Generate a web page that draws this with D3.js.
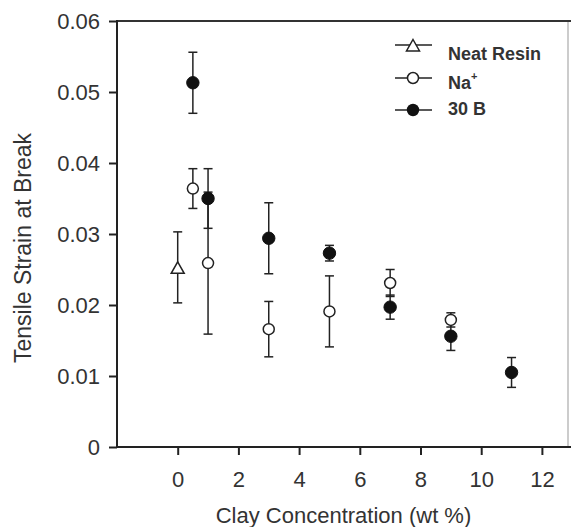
<!DOCTYPE html>
<html>
<head>
<meta charset="utf-8">
<script src="https://cdn.jsdelivr.net/npm/d3@7"></script>
<style>
  body { margin: 0; background: #fff; }
  text { font-family: "Liberation Sans", Arial, sans-serif; fill: #333; }
</style>
</head>
<body>
<svg id="chart" width="571" height="527"></svg>
<script>
// data
const neatX = [0]
const neatY = [0.0253]
const neatErr = [0.0050]

const naX = [0.5, 1, 3, 5, 7, 9]
const naY = [0.0364, 0.0259, 0.0166, 0.0191, 0.0231, 0.0179]
const naErr = [0.0028, 0.0100, 0.0039, 0.0050, 0.0019, 0.0010]

const b30X = [0.5, 1, 3, 5, 7, 9, 11]
const b30Y = [0.0513, 0.0350, 0.0294, 0.0273, 0.0197, 0.0156, 0.0105]
const b30Err = [0.0043, 0.0042, 0.0050, 0.0011, 0.0017, 0.0020, 0.0021]

const xTicks = [0, 2, 4, 6, 8, 10, 12]
const yTicks = [0, 0.01, 0.02, 0.03, 0.04, 0.05, 0.06]

const seriesNames = ['Neat Resin', 'Na', '30 B']

const svg = d3.select('#chart')
const pLeft = 117, pRight = 568, pTop = 21, pBottom = 447
const axisColor = '#222'

const x = d3.scaleLinear().domain([-2, 12.86]).range([pLeft, pRight])
const y = d3.scaleLinear().domain([0, 0.06]).range([pBottom, pTop])

// frame: thin grey right side, dark top
svg.append('line')
  .attr('x1', pRight).attr('x2', pRight).attr('y1', pTop).attr('y2', pBottom)
  .style('stroke', '#999').style('stroke-width', 1)
svg.append('line')
  .attr('x1', pLeft).attr('x2', pRight + 3).attr('y1', pTop).attr('y2', pTop)
  .style('stroke', '#333').style('stroke-width', 2)

// axes
const xAxis = d3.axisBottom(x).tickValues(xTicks).tickSize(8).tickPadding(16)
  .tickFormat(d3.format('d'))
const gx = svg.append('g').attr('transform', `translate(0, ${pBottom})`).call(xAxis)
gx.select('path.domain').attr('d', `M${pLeft},0H${pRight + 3}`)

const yAxis = d3.axisLeft(y).tickValues(yTicks).tickSize(8).tickPadding(9)
  .tickFormat(d => d === 0 ? '0' : d3.format('.2f')(d))
const gy = svg.append('g').attr('transform', `translate(${pLeft}, 0)`).call(yAxis)
gy.select('path.domain').attr('d', `M0,${pBottom + 1}V${pTop - 1}`)

svg.selectAll('.domain, .tick line')
  .style('stroke', axisColor).style('stroke-width', 2)
svg.selectAll('.tick text')
  .style('font-family', '"Liberation Sans", Arial, sans-serif')
  .style('font-size', '22px').style('fill', '#333')
gx.selectAll('.tick text').attr('dy', '0.71em')
gy.selectAll('.tick text').attr('dy', '0.36em')

// axis titles
svg.append('text')
  .attr('x', (pLeft + pRight) / 2 + 1).attr('y', 523)
  .attr('text-anchor', 'middle')
  .style('font-size', '22px')
  .text('Clay Concentration (wt %)')

svg.append('text')
  .attr('transform', `translate(31, 248) rotate(-90)`)
  .attr('text-anchor', 'middle')
  .style('font-size', '23px')
  .text('Tensile Strain at Break')

// error bars
const capW = 4.5
function errorBars(xs, ys, es) {
  const g = svg.append('g').style('stroke', axisColor).style('stroke-width', 1.5)
  xs.forEach((xv, i) => {
    const cx = x(xv), y1 = y(ys[i] + es[i]), y2 = y(ys[i] - es[i])
    g.append('line').attr('x1', cx).attr('x2', cx).attr('y1', y1).attr('y2', y2)
    g.append('line').attr('x1', cx - capW).attr('x2', cx + capW).attr('y1', y1).attr('y2', y1)
    g.append('line').attr('x1', cx - capW).attr('x2', cx + capW).attr('y1', y2).attr('y2', y2)
  })
}
errorBars(neatX, neatY, neatErr)
errorBars(naX, naY, naErr)
errorBars(b30X, b30Y, b30Err)

const triPath = 'M0,-6.5L6.5,5L-6.5,5Z'

// markers
svg.selectAll('path.neat')
  .data(neatX)
  .enter()
  .append('path')
    .attr('class', 'neat')
    .attr('d', triPath)
    .attr('transform', (d, i) => `translate(${x(d)}, ${y(neatY[i]) + 1})`)
    .style('fill', '#fff').style('stroke', axisColor).style('stroke-width', 1.5)

svg.selectAll('circle.na')
  .data(naX)
  .enter()
  .append('circle')
    .attr('class', 'na')
    .attr('cx', d => x(d))
    .attr('cy', (d, i) => y(naY[i]))
    .attr('r', 5.5)
    .style('fill', '#fff').style('stroke', axisColor).style('stroke-width', 1.5)

svg.selectAll('circle.b30')
  .data(b30X)
  .enter()
  .append('circle')
    .attr('class', 'b30')
    .attr('cx', d => x(d))
    .attr('cy', (d, i) => y(b30Y[i]))
    .attr('r', 6.2)
    .style('fill', '#111').style('stroke', '#111').style('stroke-width', 1)

// legend
const legLines = [45, 78, 110]
const legText = [60, 89, 115]
const leg = svg.append('g')
legLines.forEach(ly => {
  leg.append('line').attr('x1', 395).attr('x2', 432).attr('y1', ly).attr('y2', ly)
    .style('stroke', axisColor).style('stroke-width', 1.5)
})
leg.append('path').attr('d', triPath)
  .attr('transform', `translate(413, ${legLines[0] + 1})`)
  .style('fill', '#fff').style('stroke', axisColor).style('stroke-width', 1.5)
leg.append('circle').attr('cx', 413).attr('cy', legLines[1]).attr('r', 5.5)
  .style('fill', '#fff').style('stroke', axisColor).style('stroke-width', 1.5)
leg.append('circle').attr('cx', 413).attr('cy', legLines[2]).attr('r', 6.2)
  .style('fill', '#111')

seriesNames.forEach((name, i) => {
  const t = leg.append('text')
    .attr('x', 448).attr('y', legText[i])
    .style('font-size', '18px').style('font-weight', 'bold')
    .text(name)
  if (name === 'Na') {
    t.append('tspan').attr('dy', -9).style('font-size', '11px').text('+')
  }
})
</script>
</body>
</html>
